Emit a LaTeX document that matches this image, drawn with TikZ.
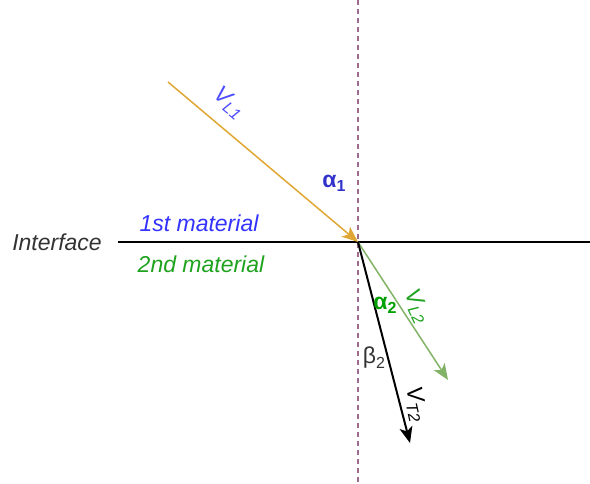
\documentclass[tikz,border=0pt]{standalone}
\usepackage{fontspec}
\setmainfont{Liberation Sans}
\usetikzlibrary{arrows.meta}
\definecolor{dashpurple}{HTML}{9E6A8E}
\definecolor{incident}{HTML}{E0A735}
\definecolor{refl}{HTML}{82B366}
\definecolor{lblblue}{HTML}{4D4DFF}
\definecolor{matblue}{HTML}{3333FF}
\definecolor{alphablue}{HTML}{3333CC}
\definecolor{matgreen}{HTML}{1FA31F}
\definecolor{greeklbl}{HTML}{00A000}
\definecolor{graytext}{HTML}{333333}
\newcommand\mysub[1]{\raisebox{-0.35ex}{\fontsize{16}{18}\selectfont #1}}
\begin{document}
\begin{tikzpicture}[x=1pt,y=-1pt,
  lbl/.style={font=\fontsize{23}{27}\selectfont\itshape, inner sep=0pt},
  greek/.style={font=\fontsize{23}{27}\selectfont, inner sep=0pt},
  tip/.style={-{Stealth[length=16pt,width=13pt,inset=4pt]}}]
\useasboundingbox (0,0) rectangle (590,483);
\coordinate (T) at (358,0);
\coordinate (Bt) at (358,483);
\coordinate (L) at (118,242);
\coordinate (R) at (590,242);
\coordinate (O) at (358,242);
\coordinate (A) at (168,82);
\coordinate (G) at (448,380);
\coordinate (B) at (410,443);
% normal
\draw[dashpurple, line width=1.3pt, dash pattern=on 5pt off 4pt] (T) -- (Bt);
% interface
\draw[black, line width=1.8pt] (L) -- (R);
% rays
\draw[incident, line width=1.5pt, tip] (A) -- (O);
\draw[refl, line width=1.5pt, tip] (O) -- (G);
\draw[black, line width=2pt, tip] (O) -- (B);
% labels
\node[lbl, text=graytext, anchor=base] (iface) at (57,250) {Interface};
\node[lbl, text=matblue, anchor=base] (m1) at (199,231) {1st material};
\node[lbl, text=matgreen, anchor=base] (m2) at (201,272) {2nd material};
\node[lbl, text=lblblue, rotate=-40] (vl1) at (229,103) {V\mysub{L1}};
\node[greek, text=alphablue, font=\fontsize{23}{27}\selectfont\bfseries] (a1) at (334,183) {α\mysub{1}};
\node[greek, text=greeklbl, font=\fontsize{23}{27}\selectfont\bfseries] (a2) at (385,305) {α\mysub{2}};
\node[lbl, text=matgreen, rotate=-65] (vl2) at (417,306) {V\mysub{L2}};
\node[greek, text=black!80] (b2) at (374,358) {β\mysub{2}};
\node[lbl, text=black, rotate=-78] (vt2) at (416,404) {V\mysub{T2}};
\end{tikzpicture}
\end{document}
